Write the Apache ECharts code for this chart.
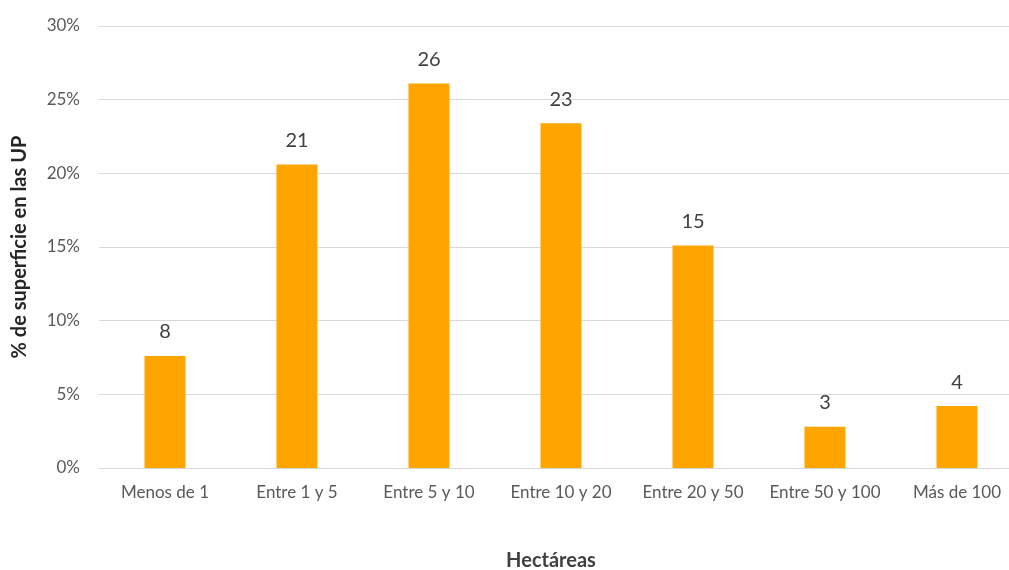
<!DOCTYPE html>
<html>
<head>
<meta charset="utf-8">
<script src="https://cdn.jsdelivr.net/npm/echarts@6/dist/echarts.min.js"></script>
<style>html,body{margin:0;padding:0;background:#fff}#c{width:1009px;height:570px}</style>
</head>
<body>
<div id="c"></div>
<script>
var categories = ["Menos de 1", "Entre 1 y 5", "Entre 5 y 10", "Entre 10 y 20", "Entre 20 y 50", "Entre 50 y 100", "Más de 100"];
var values = [7.6, 20.6, 26.1, 23.4, 15.1, 2.8, 4.2];
var labels = ["8", "21", "26", "23", "15", "3", "4"];
var yTicks = [0, 5, 10, 15, 20, 25, 30];

var chart = echarts.init(document.getElementById('c'));
var font = 'Lato, "Open Sans", sans-serif';
chart.setOption({
  animation: false,
  textStyle: {fontFamily: font},
  grid: {left: 99, right: -14, top: 26, bottom: 102, containLabel: false, outerBoundsMode: 'none'},
  xAxis: {
    type: 'category',
    data: categories,
    axisTick: {show: false},
    axisLine: {lineStyle: {color: '#d9d9d9', width: 1}},
    axisLabel: {color: '#595959', fontSize: 17, margin: 16, fontFamily: font, interval: 0, hideOverlap: false},
    name: 'Hectáreas',
    nameLocation: 'middle',
    nameGap: 83,
    nameTextStyle: {color: '#404040', fontSize: 20, fontWeight: 'bold', fontFamily: font, padding: [0, 20, 0, 0]}
  },
  yAxis: {
    type: 'value',
    min: yTicks[0],
    max: yTicks[yTicks.length - 1],
    interval: 5,
    axisLabel: {formatter: '{value}%', color: '#595959', fontSize: 17, margin: 19, fontFamily: font},
    splitLine: {lineStyle: {color: '#d9d9d9', width: 1}},
    axisLine: {show: false},
    axisTick: {show: false},
    name: '% de superficie en las UP',
    nameLocation: 'middle',
    nameGap: 69,
    nameRotate: 90,
    nameTextStyle: {color: '#262626', fontSize: 20, fontWeight: 'bold', fontFamily: font}
  },
  series: [{
    type: 'bar',
    data: values,
    barWidth: 41,
    itemStyle: {color: '#FFA500'},
    label: {
      show: true,
      position: 'top',
      distance: 14,
      color: '#404040',
      fontSize: 20,
      fontFamily: font,
      formatter: function (p) { return labels[p.dataIndex]; }
    }
  }]
});
</script>
</body>
</html>
